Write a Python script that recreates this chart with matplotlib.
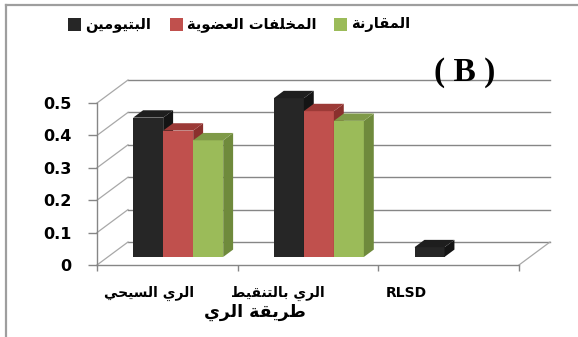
import math
import matplotlib
matplotlib.use("Agg")
import matplotlib.pyplot as plt
from matplotlib.patches import Rectangle, Polygon
from matplotlib.lines import Line2D

# ---------------------------------------------------------------- data
categories = ["الري السيحي", "الري بالتنقيط", "RLSD"]
series_names = ["البتيومين", "المخلفات العضوية", "المقارنة"]
bitumen = [0.43, 0.49, 0.03]
organic = [0.39, 0.45, None]
control = [0.36, 0.42, None]
yticks = [0, 0.1, 0.2, 0.3, 0.4, 0.5]
ytick_labels = ["0", "0.1", "0.2", "0.3", "0.4", "0.5"]
axis_title = "طريقة الري"
panel_label = "( B )"

# ------------------------------------------------- simple Arabic shaping
# presentation forms: (isolated, final, initial, medial)
FORMS = {
    "ا": ("\uFE8D", "\uFE8E", None, None),
    "ب": ("\uFE8F", "\uFE90", "\uFE91", "\uFE92"),
    "ة": ("\uFE93", "\uFE94", None, None),
    "ت": ("\uFE95", "\uFE96", "\uFE97", "\uFE98"),
    "ح": ("\uFEA1", "\uFEA2", "\uFEA3", "\uFEA4"),
    "خ": ("\uFEA5", "\uFEA6", "\uFEA7", "\uFEA8"),
    "ر": ("\uFEAD", "\uFEAE", None, None),
    "س": ("\uFEB1", "\uFEB2", "\uFEB3", "\uFEB4"),
    "ض": ("\uFEBD", "\uFEBE", "\uFEBF", "\uFEC0"),
    "ط": ("\uFEC1", "\uFEC2", "\uFEC3", "\uFEC4"),
    "ع": ("\uFEC9", "\uFECA", "\uFECB", "\uFECC"),
    "ف": ("\uFED1", "\uFED2", "\uFED3", "\uFED4"),
    "ق": ("\uFED5", "\uFED6", "\uFED7", "\uFED8"),
    "ل": ("\uFEDD", "\uFEDE", "\uFEDF", "\uFEE0"),
    "م": ("\uFEE1", "\uFEE2", "\uFEE3", "\uFEE4"),
    "ن": ("\uFEE5", "\uFEE6", "\uFEE7", "\uFEE8"),
    "و": ("\uFEED", "\uFEEE", None, None),
    "ي": ("\uFEF1", "\uFEF2", "\uFEF3", "\uFEF4"),
}


def shape_arabic(text):
    if not any(ch in FORMS for ch in text):
        return text
    out = []
    n = len(text)
    for i, ch in enumerate(text):
        if ch not in FORMS:
            out.append(ch)
            continue
        prev = text[i - 1] if i > 0 else None
        nxt = text[i + 1] if i < n - 1 else None
        joins_prev = prev in FORMS and FORMS[prev][2] is not None
        joins_next = FORMS[ch][2] is not None and nxt in FORMS
        iso, fin, ini, med = FORMS[ch]
        if joins_prev and joins_next:
            out.append(med)
        elif joins_prev:
            out.append(fin)
        elif joins_next:
            out.append(ini)
        else:
            out.append(iso)
    return "".join(reversed(out))


AR_FONT = ["DejaVu Sans"]

# ------------------------------------------------------------- layout
W, H = 578, 337
fig = plt.figure(figsize=(W / 100, H / 100), dpi=100)
fig.patch.set_facecolor("white")

# front plane of the 3-D box in pixels
x0px, x1px = 97, 519
y0px, y1px = 265, 103
ax = fig.add_axes([x0px / W, (H - y0px) / H, (x1px - x0px) / W, (y0px - y1px) / H])
ax.set_xlim(0, 3)
ax.set_ylim(0, 0.5)
ax.set_facecolor("none")

cat_px = (x1px - x0px) / 3.0
val_px = (y0px - y1px) / 0.5
DX = 31 / cat_px      # depth offset of the back wall (data units)
DY = 23 / val_px

grid_c = "#868686"
wall_c = "#a8a8a8"

for s in ("top", "right"):
    ax.spines[s].set_visible(False)
for s in ("left", "bottom"):
    ax.spines[s].set_color(grid_c)
    ax.spines[s].set_linewidth(1.0)

ax.set_yticks(yticks)
ax.set_yticklabels(ytick_labels, fontsize=11.5, fontweight="bold")
ax.tick_params(axis="y", direction="out", length=6.5, width=1.0, color=grid_c, pad=12)
ax.set_xticks([0, 1, 2, 3])
ax.set_xticklabels([])
ax.tick_params(axis="x", direction="out", length=4.5, width=1.0, color=grid_c)

# back wall gridlines and side wall diagonals
for v in yticks:
    ax.add_line(Line2D([DX, 3 + DX], [v + DY, v + DY], color=grid_c, lw=1.0,
                       zorder=1, clip_on=False))
    ax.add_line(Line2D([0, DX], [v, v + DY], color=wall_c, lw=0.9,
                       zorder=1, clip_on=False))
# floor right edge
ax.add_line(Line2D([3, 3 + DX], [0, DY], color=wall_c, lw=0.9, zorder=1, clip_on=False))

# --------------------------------------------------------------- bars
front_d, back_d = 0.35, 0.67
fx, fy = front_d * DX, front_d * DY
bx, by = back_d * DX, back_d * DY

colors = [
    ("#262626", "#141414", "#1e1e1e"),
    ("#c0504d", "#8a302d", "#9c3a37"),
    ("#9bbb59", "#6f8a3c", "#7f9a48"),
]
all_series = [bitumen, organic, control]
gap = 0.18
bw = (1 - 2 * gap) / 3


def draw_bar(x, h, cols, z):
    front_c, side_c, top_c = cols
    ax.add_patch(Rectangle((x + fx, fy), bw, h, facecolor=front_c,
                           edgecolor="none", zorder=z, clip_on=False))
    ax.add_patch(Polygon([(x + bw + fx, fy), (x + bw + bx, by),
                          (x + bw + bx, h + by), (x + bw + fx, h + fy)],
                         closed=True, facecolor=side_c, edgecolor="none",
                         zorder=z, clip_on=False))
    ax.add_patch(Polygon([(x + fx, h + fy), (x + bw + fx, h + fy),
                          (x + bw + bx, h + by), (x + bx, h + by)],
                         closed=True, facecolor=top_c, edgecolor="none",
                         zorder=z, clip_on=False))


z = 3
for ci in range(len(categories)):
    for si, vals in enumerate(all_series):
        v = vals[ci]
        if v is None:
            continue
        draw_bar(ci + gap + si * bw, v, colors[si], z)
        z += 1

# ------------------------------------------------------- category text
label_px = [149, 278, 406]
for lab, px in zip(categories, label_px):
    ax.text((px - x0px) / cat_px, (y0px - 293) / val_px, shape_arabic(lab),
            ha="center", va="center", fontsize=10, fontweight="bold",
            family=AR_FONT, clip_on=False)

ax.text((255 - x0px) / cat_px, (y0px - 312) / val_px, shape_arabic(axis_title),
        ha="center", va="center", fontsize=12.5, fontweight="bold",
        family=AR_FONT, clip_on=False)

ax.text((465 - x0px) / cat_px, (y0px - 72) / val_px, panel_label,
        ha="center", va="center", fontsize=24, fontweight="bold",
        family=["Liberation Serif"], clip_on=False, zorder=20)

# ------------------------------------------------------------- legend
leg_sq = [68, 170, 334]
leg_tx = [85, 187, 351]
leg_y = 24
sq = 13
for si, name in enumerate(series_names):
    fig.patches.append(Rectangle((leg_sq[si] / W, (H - leg_y - sq / 2) / H),
                                 sq / W, sq / H, facecolor=colors[si][0],
                                 edgecolor="none", transform=fig.transFigure,
                                 figure=fig))
    fig.text(leg_tx[si] / W, (H - leg_y) / H, shape_arabic(name), ha="left",
             va="center", fontsize=10.5, fontweight="bold", family=AR_FONT)

# ---------------------------------------------------------- outer frame
frame_c = "#9e9e9e"
fig.lines.append(Line2D([6 / W, 1], [(H - 5) / H, (H - 5) / H], color=frame_c,
                        lw=1.6, transform=fig.transFigure, figure=fig))
fig.lines.append(Line2D([6 / W, 6 / W], [0, (H - 5) / H], color=frame_c,
                        lw=1.6, transform=fig.transFigure, figure=fig))

fig.savefig("out.png", dpi=100)
